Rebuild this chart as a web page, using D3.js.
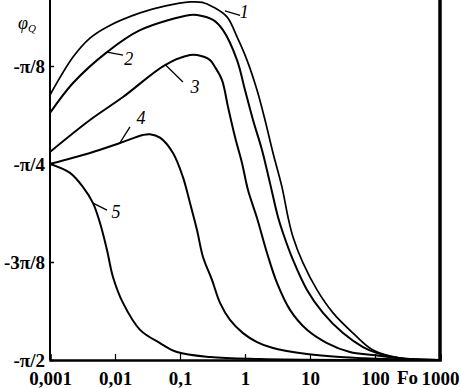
<!DOCTYPE html>
<html>
<head>
    <meta charset="UTF-8">
    <title>phi_Q vs Fo</title>
    <script src="https://d3js.org/d3.v7.min.js"></script>
    <style>
        body { margin: 0; background: #fff; }
        text { font-family: "Liberation Serif", "Times New Roman", serif; }
    </style>
</head>
<body>
<script>
    // Fo values (log axis) and phase phi_Q in radians for each curve
    const fo1 = [0.001, 0.00226, 0.00412, 0.00753, 0.0243, 0.06, 0.1426, 0.22, 0.322, 0.528, 0.754, 1.073, 1.53, 2.031, 2.697, 3.708, 4.587, 5.476, 7.80, 12.82, 22.58, 45.87, 93.2, 243, 1000];
    const phi1 = [-0.509, -0.357, -0.281, -0.236, -0.180, -0.152, -0.136, -0.138, -0.156, -0.196, -0.276, -0.369, -0.489, -0.609, -0.741, -0.878, -0.998, -1.078, -1.182, -1.290, -1.382, -1.463, -1.531, -1.563, -1.5708];

    const fo2 = [0.001, 0.00226, 0.00753, 0.0243, 0.1426, 0.183, 0.322, 0.459, 0.754, 1.0, 1.328, 1.826, 2.424, 3.219, 3.843, 5.476, 8.99, 15.85, 32.2, 65.4, 107.4, 243, 1000];
    const phi2 = [-0.581, -0.461, -0.337, -0.249, -0.188, -0.188, -0.208, -0.249, -0.369, -0.489, -0.609, -0.729, -0.862, -0.998, -1.062, -1.170, -1.290, -1.382, -1.463, -1.519, -1.543, -1.565, -1.5708];

    const fo3 = [0.001, 0.00412, 0.01327, 0.0588, 0.1426, 0.183, 0.290, 0.3455, 0.443, 0.548, 0.702, 0.899, 1.112, 1.53, 2.181, 3.107, 4.924, 8.99, 18.26, 41.2, 93.2, 345, 1000];
    const phi3 = [-0.737, -0.609, -0.517, -0.389, -0.349, -0.349, -0.369, -0.397, -0.449, -0.557, -0.677, -0.781, -0.890, -1.002, -1.142, -1.262, -1.370, -1.450, -1.503, -1.539, -1.551, -1.567, -1.5708];

    const fo4 = [0.001, 0.00412, 0.01194, 0.027, 0.0346, 0.0492, 0.078, 0.111, 0.1426, 0.1826, 0.226, 0.3105, 0.4125, 0.5878, 0.932, 1.53, 2.697, 8.99, 28.9, 200, 1000];
    const phi4 = [-0.785, -0.741, -0.701, -0.669, -0.666, -0.680, -0.741, -0.838, -0.942, -1.050, -1.158, -1.250, -1.342, -1.410, -1.463, -1.499, -1.523, -1.547, -1.559, -1.568, -1.5708];

    const fo5 = [0.001, 0.00203, 0.00322, 0.00459, 0.00588, 0.00753, 0.00931, 0.01327, 0.0243, 0.0492, 0.090, 0.290, 1.70, 41, 1000];
    const phi5 = [-0.785, -0.821, -0.878, -0.942, -1.022, -1.130, -1.238, -1.342, -1.450, -1.503, -1.539, -1.559, -1.567, -1.5708, -1.5708];

    const xTickValues = [0.001, 0.01, 0.1, 1, 10, 100, 1000];
    const xTickLabels = ["0,001", "0,01", "0,1", "1", "10", "100", "1000"];
    const yTickValues = [-Math.PI / 8, -Math.PI / 4, -3 * Math.PI / 8, -Math.PI / 2];
    const yTickLabels = ["-\u03c0/8", "-\u03c0/4", "-3\u03c0/8", "-\u03c0/2"];

    // curve number labels: anchor on curve, end of leader, text position (Fo, phi)
    const curveNames = ["1", "2", "3", "4", "5"];
    const labelAnchor = [[0.49, -0.172], [0.00753, -0.337], [0.06, -0.389], [0.0119, -0.701], [0.00459, -0.942]];
    const labelEnd = [[0.84, -0.19], [0.0133, -0.349], [0.111, -0.457], [0.017, -0.637], [0.00753, -0.970]];
    const labelText = [[0.97, -0.176], [0.0163, -0.365], [0.17, -0.477], [0.0251, -0.601], [0.0104, -0.978]];

    const width = 461, height = 388;
    const series = [[fo1, phi1], [fo2, phi2], [fo3, phi3], [fo4, phi4], [fo5, phi5]];

    const x = d3.scaleLog().domain([0.001, 1000]).range([50, 440]);
    const y = d3.scaleLinear().domain([-Math.PI / 2, 0]).range([360, -32]);

    const svg = d3.select("body").append("svg")
        .attr("width", width).attr("height", height);

    svg.append("clipPath").attr("id", "plot")
        .append("rect").attr("x", 50).attr("y", 0).attr("width", 390).attr("height", 360);

    const line = d3.line()
        .x(d => x(d[0]))
        .y(d => y(d[1]))
        .curve(d3.curveCatmullRom.alpha(0.5));

    svg.append("g").attr("clip-path", "url(#plot)")
        .selectAll("path")
        .data(series)
        .enter().append("path")
        .attr("d", s => line(s[0].map((f, i) => [f, s[1][i]])))
        .attr("fill", "none")
        .attr("stroke", "#000")
        .attr("stroke-width", (s, i) => i === 0 ? 1.7 : 2);

    // axes
    const xAxis = svg.append("g").attr("transform", "translate(0,360)")
        .call(d3.axisBottom(x).tickValues(xTickValues).tickSize(-6).tickFormat((d, i) => xTickLabels[i]));
    xAxis.select(".domain").attr("stroke-width", 2.5);
    xAxis.selectAll(".tick line").attr("stroke-width", 1.2);
    xAxis.selectAll(".tick text")
        .attr("y", 12).attr("dy", "0.71em")
        .attr("font-size", 19).attr("font-weight", "bold")
        .attr("font-family", "Liberation Serif");

    const yAxis = svg.append("g").attr("transform", "translate(50,0)")
        .call(d3.axisLeft(y).tickValues(yTickValues).tickSize(-4).tickFormat((d, i) => yTickLabels[i]));
    yAxis.select(".domain").attr("d", "M0,0V360").attr("stroke-width", 2);
    yAxis.selectAll(".tick line").attr("stroke-width", 1.5);
    yAxis.selectAll(".tick text")
        .attr("x", -5)
        .attr("font-size", 19).attr("font-weight", "bold")
        .attr("font-family", "Liberation Serif");

    svg.append("line")
        .attr("x1", 440).attr("x2", 440).attr("y1", 0).attr("y2", 361)
        .attr("stroke", "#000").attr("stroke-width", 3.5);

    // Fo axis name, between 100 and 1000
    svg.append("text")
        .attr("x", x(316)).attr("y", 384)
        .attr("text-anchor", "middle")
        .attr("font-size", 19).attr("font-weight", "bold")
        .text("Fo");

    // y axis name phi_Q
    const yl = svg.append("text").attr("x", 18).attr("y", 29)
        .attr("font-style", "italic").attr("font-size", 18);
    yl.append("tspan").text("\u03c6");
    yl.append("tspan").attr("font-size", 11).attr("dy", 3).text("Q");

    // curve labels with leader lines
    const lab = svg.append("g");
    lab.selectAll("line")
        .data(curveNames)
        .enter().append("line")
        .attr("x1", (d, i) => x(labelAnchor[i][0])).attr("y1", (d, i) => y(labelAnchor[i][1]))
        .attr("x2", (d, i) => x(labelEnd[i][0])).attr("y2", (d, i) => y(labelEnd[i][1]))
        .attr("stroke", "#000").attr("stroke-width", 1.3);
    lab.selectAll("text")
        .data(curveNames)
        .enter().append("text")
        .attr("x", (d, i) => x(labelText[i][0])).attr("y", (d, i) => y(labelText[i][1]))
        .attr("dy", "0.35em")
        .attr("text-anchor", "middle")
        .attr("font-style", "italic").attr("font-size", 18)
        .text(d => d);
</script>
</body>
</html>
